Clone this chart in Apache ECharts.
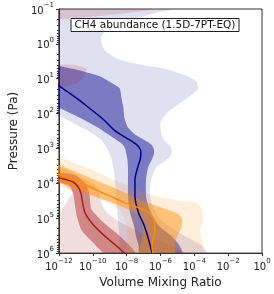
<!DOCTYPE html>
<html><head><meta charset="utf-8">
<script src="https://cdn.jsdelivr.net/npm/echarts@6/dist/echarts.min.js"></script>
<style>html,body{margin:0;padding:0;background:#fff}#c{width:274px;height:294px}</style>
</head><body><div id="c"></div>
<script>
// ---- tick values ----
const xTicks = [1e-12, 1e-10, 1e-8, 1e-6, 1e-4, 1e-2, 1];
const yTicks = [0.1, 1, 10, 100, 1e3, 1e4, 1e5, 1e6];

// ---- profiles: pairs of [pressure (Pa), volume mixing ratio] ----
const blueLine = [[11,3.5e-13],[16,1e-12],[32,7.9e-12],[69,6.2e-11],[150,4.4e-10],[306,2.0e-9],[482,8.5e-9],[640,2.2e-8],[830,4.6e-8],[1270,7.0e-8],[2000,6.4e-8],[3360,4.6e-8],[7800,3.1e-8],[23400,3.1e-8],[70500,5.1e-8],[163000,1.1e-7],[379000,1.9e-7],[1e6,3.2e-7]];
const blue1Right = [[3.5,1e-13],[4.3,1e-12],[5.2,6.2e-12],[6.3,3.2e-11],[8.7,3.0e-10],[14,1.6e-9],[19,3.9e-9],[36,5.0e-9],[69,6.5e-9],[132,7.4e-9],[252,1.2e-8],[397,3.1e-8],[548,9.8e-8],[758,2.8e-7],[1050,4.1e-7],[1450,4.1e-7],[2000,3.2e-7],[3360,1.9e-7],[7800,1.4e-7],[23400,1.4e-7],[44800,1.9e-7],[70500,2.8e-7],[163000,7.8e-7],[312000,4.2e-6],[596000,1.3e-5],[1e6,1.9e-5]];
const blue1Left = [[3.5,1e-13],[60,1e-13],[69,1e-12],[132,1.7e-11],[252,2.0e-10],[397,8.3e-10],[548,2.3e-9],[758,5.7e-9],[1050,8.5e-9],[1450,9.6e-9],[2000,1.1e-8],[3360,1.2e-8],[7800,1.2e-8],[23400,1.2e-8],[44800,1.4e-8],[70500,1.6e-8],[163000,2.7e-8],[312000,3.5e-8],[596000,5.1e-8],[1e6,5.9e-8]];
const blue2Right = [[0.05,1.3e-5],[0.1,5.4e-6],[0.13,5.2e-7],[0.2,2.1e-8],[0.34,1.6e-9],[0.44,5.6e-10],[0.61,3.3e-10],[1.0,3.3e-10],[1.6,5.6e-10],[2.7,3.0e-9],[4.0,7.6e-8],[5.2,1.9e-6],[6.7,1.0e-5],[8.7,4.8e-5],[12,1.3e-4],[19,1.7e-4],[26,9.1e-5],[50,1.5e-5],[95,2.5e-6],[182,1.0e-6],[482,1.3e-6],[920,4.2e-6],[1270,4.7e-6],[1760,3.6e-6],[2430,1.5e-6],[3360,6.0e-7],[7800,2.8e-7],[23400,2.4e-7],[70500,5.2e-7],[144000,1.9e-6],[312000,2.5e-5],[596000,2.6e-4],[1e6,5.6e-4]];
const blue2Left = [[0.05,1e-13],[100,1e-13],[116,1e-12],[182,6.2e-12],[306,4.8e-11],[548,3.0e-10],[920,6.3e-10],[1760,1.2e-9],[3360,1.6e-9],[7800,2.0e-9],[23400,2.3e-9],[97400,3.0e-9],[379000,3.9e-9],[1e6,4.4e-9]];

const orangeLine = [[4640,3.5e-13],[5640,1e-12],[8320,7.9e-12],[12300,6.2e-11],[19300,4.4e-10],[26700,2.0e-9],[36900,8.5e-9],[44800,2.7e-8],[54400,7.6e-8],[61900,1.4e-7],[80200,2.8e-7],[111000,4.1e-7],[163000,4.6e-7],[257000,4.6e-7],[432000,3.5e-7],[680000,3.2e-7],[1e6,3.5e-7]];
const orange1Right = [[2430,3.5e-13],[2950,1e-12],[6850,6.2e-11],[14900,3.0e-9],[34500,1.4e-7],[54400,1.9e-6],[70500,8.9e-6],[104000,1.9e-5],[186000,1.7e-5],[312000,1.0e-5],[596000,6.9e-6],[1e6,6.9e-6]];
const orange1Left = [[7310,3.5e-13],[9470,1e-12],[20600,6.2e-11],[36900,1.6e-9],[54400,1.1e-8],[75200,4.0e-8],[118000,7.6e-8],[226000,9.8e-8],[432000,7.6e-8],[1e6,5.9e-8]];
const orange2Right = [[1450,3.5e-13],[1760,1e-12],[3830,6.2e-11],[8870,3.0e-9],[19300,1.4e-7],[30300,6.9e-6],[34500,9.1e-5],[50900,2.6e-4],[118000,3.3e-4],[226000,2.2e-4],[432000,2.9e-4],[1e6,3.3e-4]];
const orange2Left = [[9470,3.5e-13],[12300,1e-12],[22000,6.2e-11],[36900,8.3e-10],[58000,3.9e-9],[118000,8.5e-9],[312000,1.1e-8],[1e6,1.1e-8]];

const redLine = [[5640,3.5e-13],[6850,1e-12],[8870,6.2e-12],[12300,1.3e-11],[19300,2.0e-11],[36900,2.5e-11],[75200,3.7e-11],[163000,1.2e-10],[355000,6.3e-10],[596000,2.3e-9],[1e6,7.4e-9]];
const red1Right = [[4080,3.5e-13],[4950,1e-12],[5640,7.9e-12],[10100,3.7e-11],[19300,6.2e-11],[54400,8.1e-11],[118000,3.3e-10],[257000,2.3e-9],[524000,1.1e-8],[1e6,3.1e-8]];
const red1Left = [[7800,3.5e-13],[9470,1e-12],[11500,4.2e-12],[19300,6.9e-12],[44800,9.0e-12],[97400,1.2e-11],[226000,2.2e-11],[491000,1.0e-10],[1e6,4.9e-10]];
const red2Right = [[0.05,3.6e-6],[0.1,5.2e-7],[0.114,9.8e-8],[0.13,1.1e-8],[0.17,6.2e-11],[0.2,1e-12],[0.28,1e-13],[3.3,1e-13],[4.0,6.2e-12],[5.2,4.2e-11],[8.7,2.9e-11],[14,1.0e-11],[18,1e-12],[25,1e-13],[2430,1e-13],[3360,1e-12],[6420,1.7e-11],[12300,1.7e-10],[32400,3.0e-10],[61900,5.6e-10],[118000,3.0e-9],[312000,1.4e-7],[596000,3.6e-6],[1e6,2.5e-5]];
const red2Left = [[0.05,1e-13],[7000,1e-13],[8320,1e-12],[12300,2.8e-12],[19300,6.2e-12],[32400,3.2e-12],[54400,1.5e-12],[85500,1e-12],[118000,1e-13],[1e6,1e-13]];

const titleText = 'CH4 abundance (1.5D-7PT-EQ)';
const xName = 'Volume Mixing Ratio';
const yName = 'Pressure (Pa)';

// ---- styling helpers ----
const FONT = 'DejaVu Sans';
const BLUE = '0,0,139', ORANGE = '255,140,0', RED = '170,30,30';

function band(right, left, rgb, alpha) {
  const pts = right.concat(left.slice().reverse());
  return {
    type: 'custom', coordinateSystem: 'cartesian2d', clip: true, silent: true,
    data: [[1e-6, 100]],
    renderItem: function (params, api) {
      return {
        type: 'polygon',
        shape: { points: pts.map(p => api.coord([p[1], p[0]])), smooth: 0.2 },
        style: { fill: 'rgba(' + rgb + ',' + alpha + ')', stroke: null }
      };
    }
  };
}
function line(d, color) {
  return {
    type: 'line', data: d.map(p => [p[1], p[0]]), showSymbol: false, smooth: 0.25,
    clip: true, silent: true, lineStyle: { color: color, width: 1.5 }
  };
}
const yMinor = [];
for (let e = -1; e < 6; e++) for (let m = 2; m <= 9; m++) yMinor.push(m * Math.pow(10, e));

function expLabel(v) {
  const e = Math.round(Math.log10(v));
  return '{b|10}{s|' + (e < 0 ? '\u2212' + (-e) : e) + '}';
}
const rich = {
  b: { fontSize: 10, fontFamily: FONT, color: '#222', verticalAlign: 'bottom', lineHeight: 14 },
  s: { fontSize: 7, fontFamily: FONT, color: '#222', verticalAlign: 'top', lineHeight: 8 }
};
const axisCol = '#333';

const chart = echarts.init(document.getElementById('c'), null, { renderer: 'canvas' });
chart.setOption({
  animation: false,
  backgroundColor: '#fff',
  title: {
    text: titleText, left: 71, top: 18, padding: [1, 3.5, 1, 3.5],
    borderColor: '#222', borderWidth: 1, backgroundColor: '#fff',
    textStyle: { fontSize: 10.5, fontWeight: 'normal', fontFamily: FONT, color: '#111', lineHeight: 12 }
  },
  grid: { left: 48, top: 9, right: 12, bottom: 36, show: true, borderColor: axisCol, borderWidth: 1, backgroundColor: 'transparent' },
  xAxis: [{
    type: 'log', logBase: 10, min: 1e-12, max: 1,
    axisLine: { show: true, lineStyle: { color: axisCol } },
    axisTick: { show: true, length: 3, customValues: xTicks, lineStyle: { color: axisCol } },
    axisLabel: { customValues: xTicks, formatter: expLabel, rich: rich, margin: 5 },
    splitLine: { show: false }, minorTick: { show: false },
    name: xName, nameLocation: 'middle', nameGap: 20,
    nameTextStyle: { fontSize: 12, fontFamily: FONT, color: '#222' }
  }],
  yAxis: [{
    type: 'log', logBase: 10, min: 0.1, max: 1e6, inverse: true,
    axisLine: { show: true, lineStyle: { color: axisCol } },
    axisTick: { show: true, length: 3, customValues: yTicks, lineStyle: { color: axisCol } },
    axisLabel: { customValues: yTicks, formatter: expLabel, rich: rich, margin: 5 },
    splitLine: { show: false },
    name: yName, nameLocation: 'middle', nameGap: 33,
    nameTextStyle: { fontSize: 12, fontFamily: FONT, color: '#222' }
  }, {
    type: 'log', logBase: 10, min: 0.1, max: 1e6, inverse: true, position: 'left',
    axisLine: { show: false },
    axisTick: { show: true, length: 2, customValues: yMinor, lineStyle: { color: axisCol } },
    axisLabel: { show: false }, splitLine: { show: false }
  }],
  series: [
    band(blue2Right, blue2Left, BLUE, 0.12),
    band(blue1Right, blue1Left, BLUE, 0.45),
    band(red2Right, red2Left, RED, 0.15),
    band(red1Right, red1Left, RED, 0.45),
    band(orange2Right, orange2Left, ORANGE, 0.15),
    band(orange1Right, orange1Left, ORANGE, 0.45),
    line(blueLine, '#00008b'),
    line(redLine, '#a51d1d'),
    line(orangeLine, '#ff8c00')
  ]
});
</script></body></html>
